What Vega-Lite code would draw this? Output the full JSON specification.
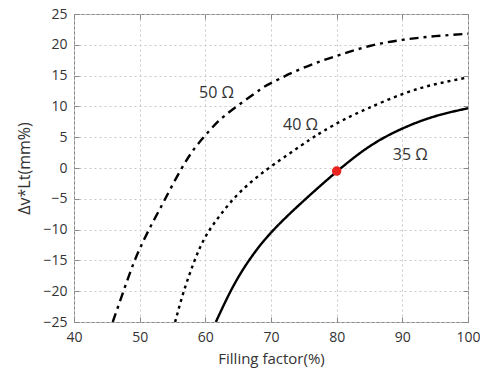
{
  "$schema": "https://vega.github.io/schema/vega-lite/v6.json",
  "width": 394,
  "height": 308,
  "autosize": "none",
  "padding": {"left": 74, "top": 14, "right": 12, "bottom": 49},
  "background": "white",
  "config": {
    "view": {"stroke": "#888888", "strokeWidth": 1},
    "font": "Open Sans",
    "axis": {
      "labelFont": "Open Sans",
      "titleFont": "Open Sans",
      "labelColor": "#333333",
      "titleColor": "#333333",
      "titleFontWeight": "normal",
      "domain": false,
      "gridColor": "#c8c8c8",
      "gridDash": [2, 3],
      "gridWidth": 1,
      "tickColor": "#888888",
      "labelOverlap": false
    }
  },
  "datasets": {
    "curves": [
      {"r": "35 Ω", "x": 61.6, "y": -25},
      {"r": "35 Ω", "x": 63.9, "y": -19.9},
      {"r": "35 Ω", "x": 66.4, "y": -15.4},
      {"r": "35 Ω", "x": 70, "y": -10.5},
      {"r": "35 Ω", "x": 75, "y": -5.3},
      {"r": "35 Ω", "x": 80, "y": -0.6},
      {"r": "35 Ω", "x": 85, "y": 3.5},
      {"r": "35 Ω", "x": 90, "y": 6.4},
      {"r": "35 Ω", "x": 95, "y": 8.4},
      {"r": "35 Ω", "x": 100, "y": 9.7},
      {"r": "40 Ω", "x": 55.4, "y": -25},
      {"r": "40 Ω", "x": 56.7, "y": -20.1},
      {"r": "40 Ω", "x": 58.3, "y": -15.2},
      {"r": "40 Ω", "x": 60, "y": -11.2},
      {"r": "40 Ω", "x": 62.3, "y": -7.6},
      {"r": "40 Ω", "x": 65.4, "y": -3.8},
      {"r": "40 Ω", "x": 69.3, "y": -0.3},
      {"r": "40 Ω", "x": 72.9, "y": 2.4},
      {"r": "40 Ω", "x": 75.9, "y": 4.6},
      {"r": "40 Ω", "x": 78, "y": 6.0},
      {"r": "40 Ω", "x": 81, "y": 7.8},
      {"r": "40 Ω", "x": 84.8, "y": 9.7},
      {"r": "40 Ω", "x": 90, "y": 12.0},
      {"r": "40 Ω", "x": 95, "y": 13.6},
      {"r": "40 Ω", "x": 100, "y": 14.7},
      {"r": "50 Ω", "x": 45.9, "y": -25},
      {"r": "50 Ω", "x": 47.6, "y": -19.8},
      {"r": "50 Ω", "x": 49.1, "y": -15.4},
      {"r": "50 Ω", "x": 50.5, "y": -12},
      {"r": "50 Ω", "x": 52, "y": -8.8},
      {"r": "50 Ω", "x": 53.7, "y": -5.4},
      {"r": "50 Ω", "x": 56.1, "y": -0.6},
      {"r": "50 Ω", "x": 58.3, "y": 3.1},
      {"r": "50 Ω", "x": 60, "y": 5.3},
      {"r": "50 Ω", "x": 62, "y": 7.6},
      {"r": "50 Ω", "x": 64.8, "y": 10.0},
      {"r": "50 Ω", "x": 68.3, "y": 12.7},
      {"r": "50 Ω", "x": 70.4, "y": 14.0},
      {"r": "50 Ω", "x": 75, "y": 16.3},
      {"r": "50 Ω", "x": 80, "y": 18.2},
      {"r": "50 Ω", "x": 85, "y": 19.8},
      {"r": "50 Ω", "x": 90, "y": 20.8},
      {"r": "50 Ω", "x": 95, "y": 21.4},
      {"r": "50 Ω", "x": 100, "y": 21.8}
    ],
    "labels": [
      {"label": "50 Ω", "x": 61.7, "y": 12.1},
      {"label": "40 Ω", "x": 74.5, "y": 6.9},
      {"label": "35 Ω", "x": 91.2, "y": 2.1}
    ],
    "marker": [
      {"x": 80, "y": -0.5}
    ]
  },
  "resolve": {"axis": {"x": "independent", "y": "independent"}},
  "layer": [
    {
      "data": {"name": "curves"},
      "mark": {"type": "line", "interpolate": "natural", "color": "black", "strokeWidth": 2.4, "clip": true},
      "encoding": {
        "x": {
          "field": "x", "type": "quantitative",
          "scale": {"domain": [40, 100], "nice": false, "zero": false},
          "axis": {"title": "Filling factor(%)", "values": [40, 50, 60, 70, 80, 90, 100], "labelFontSize": 14, "titleFontSize": 15, "ticks": true, "tickSize": -5, "labelPadding": 13, "titlePadding": 7, "grid": true, "labelFlush": false}
        },
        "y": {
          "field": "y", "type": "quantitative",
          "scale": {"domain": [-25, 25], "nice": false, "zero": false},
          "axis": {"title": "Δv*Lt(mm%)", "values": [-25, -20, -15, -10, -5, 0, 5, 10, 15, 20, 25], "labelFontSize": 14, "titleFontSize": 16, "ticks": true, "tickSize": -5, "labelPadding": 12, "titlePadding": 10, "grid": true}
        },
        "strokeDash": {
          "field": "r", "type": "nominal",
          "scale": {"domain": ["35 Ω", "40 Ω", "50 Ω"], "range": [[1, 0], [3, 4], [9, 5, 3, 5]]},
          "legend": null
        },
        "detail": {"field": "r"}
      }
    },
    {
      "data": {"name": "labels"},
      "mark": {"type": "text", "font": "Open Sans", "fontSize": 16, "color": "#333333", "align": "center", "baseline": "middle"},
      "encoding": {
        "x": {"field": "x", "type": "quantitative", "axis": {"orient": "top", "title": null, "labels": false, "grid": false, "ticks": true, "tickSize": -5, "values": [40, 50, 60, 70, 80, 90, 100]}},
        "y": {"field": "y", "type": "quantitative", "axis": {"orient": "right", "title": null, "labels": false, "grid": false, "ticks": true, "tickSize": -5, "values": [-25, -20, -15, -10, -5, 0, 5, 10, 15, 20, 25]}},
        "text": {"field": "label"}
      }
    },
    {
      "data": {"name": "marker"},
      "mark": {"type": "point", "filled": true, "color": "#e8251f", "size": 90, "opacity": 1},
      "encoding": {
        "x": {"field": "x", "type": "quantitative", "axis": null},
        "y": {"field": "y", "type": "quantitative", "axis": null}
      }
    }
  ]
}
